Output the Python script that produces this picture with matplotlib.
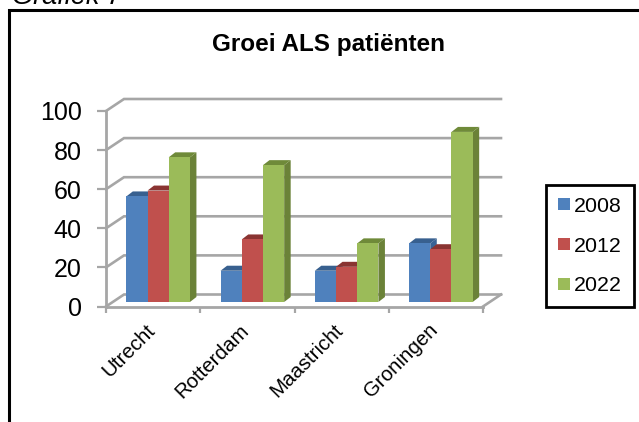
import matplotlib
matplotlib.use('Agg')
import matplotlib.pyplot as plt
from matplotlib.patches import Patch

plt.rcParams['font.family'] = ['Liberation Sans', 'DejaVu Sans']

# waarden
steden = ['Utrecht', 'Rotterdam', 'Maastricht', 'Groningen']
jaren = ['2008', '2012', '2022']
w2008 = [54, 16, 16, 30]
w2012 = [57, 32, 18, 27]
w2022 = [74, 70, 30, 87]
yticks = [0, 20, 40, 60, 80, 100]

kleuren = ['#4F81BD', '#C0504D', '#9BBB59']
zijkant = ['#3A6496', '#8E3A38', '#6B8238']
bovenkant = ['#38608F', '#8A3432', '#6F8A39']
grijs = '#A6A6A6'

W, H = 639, 422
fig = plt.figure(figsize=(W / 100, H / 100), dpi=100)

# kader en titels in pixels
bg = fig.add_axes([0, 0, 1, 1])
bg.set_xlim(0, W)
bg.set_ylim(H, 0)
bg.axis('off')
bg.plot([9, 9, W + 5], [H + 5, 10, 10], color='black', lw=2.2, solid_joinstyle='miter')
bg.text(12, 4, 'Grafiek 7', fontsize=19.5, style='italic', ha='left', va='baseline')
bg.text(328, 44, 'Groei ALS patiënten', fontsize=17.5, fontweight='bold', ha='center', va='center')

# voorvlak van de 3D-grafiek
left, right, top, bottom = 106, 483, 111, 306.5
ax = fig.add_axes([left / W, 1 - bottom / H, (right - left) / W, (bottom - top) / H])
ax.set_xlim(0, len(steden))
ax.set_ylim(0, 100)
ax.patch.set_visible(False)

px_x = len(steden) / (right - left)
px_y = 100 / (bottom - top)
diep_x, diep_y = 18 * px_x, 12 * px_y        # achterwand
bar_x, bar_y = 5 * px_x, 4.5 * px_y          # voorkant van de balken
zij_x, zij_y = 6.5 * px_x, 5 * px_y          # diepte van de balken
breedte = 21.2 * px_x

# wand en vloer
for t in yticks:
    ax.plot([0, diep_x, 4 + diep_x], [t, t + diep_y, t + diep_y], color=grijs, lw=1.9,
            clip_on=False, zorder=1, solid_joinstyle='miter')
ax.plot([4, 4 + diep_x], [0, diep_y], color=grijs, lw=1.9, clip_on=False, zorder=1)

for s in ['top', 'right']:
    ax.spines[s].set_visible(False)
for s in ['left', 'bottom']:
    ax.spines[s].set_color(grijs)
    ax.spines[s].set_linewidth(2)

ax.set_yticks(yticks)
ax.set_xticks(range(len(steden) + 1))
ax.set_xticklabels([])
ax.tick_params(axis='y', length=6.5, width=1.6, color=grijs, labelsize=18, pad=11)
ax.tick_params(axis='x', length=4.3, width=1.6, color=grijs)

for i, stad in enumerate(steden):
    ax.annotate(stad, (i + 0.5, 0), xytext=(-5.5, -10), textcoords='offset points',
                rotation=45, fontsize=14.8, ha='right', va='top', rotation_mode='anchor')

# balken: voorkant, zijkant en bovenkant
reeksen = [w2008, w2012, w2022]
for i in range(len(steden)):
    for j, reeks in enumerate(reeksen):
        x0 = i + 0.5 + (j - 1.5) * breedte + bar_x
        x1 = x0 + breedte
        y0 = bar_y
        y1 = reeks[i] + bar_y
        ax.fill([x1, x1 + zij_x, x1 + zij_x, x1], [y0, y0 + zij_y, y1 + zij_y, y1],
                color=zijkant[j], lw=0, zorder=3 + j, clip_on=False)
        ax.fill([x0, x0 + zij_x, x1 + zij_x, x1], [y1, y1 + zij_y, y1 + zij_y, y1],
                color=bovenkant[j], lw=0, zorder=3 + j, clip_on=False)
        ax.bar(x0, reeks[i], width=breedte, bottom=bar_y, align='edge', color=kleuren[j],
               zorder=3 + j, clip_on=False)

# legenda
handles = [Patch(facecolor=k, label=l) for k, l in zip(kleuren, jaren)]
leg = fig.legend(handles=handles, loc='center', bbox_to_anchor=(590 / W, 1 - 246 / H),
                 fontsize=15.4, frameon=True, fancybox=False, edgecolor='black', framealpha=1,
                 handlelength=0.56, handleheight=0.47, handletextpad=0.2, labelspacing=0.97,
                 borderpad=0.55, borderaxespad=0)
leg.get_frame().set_linewidth(2)

fig.savefig('out.png', dpi=100)
